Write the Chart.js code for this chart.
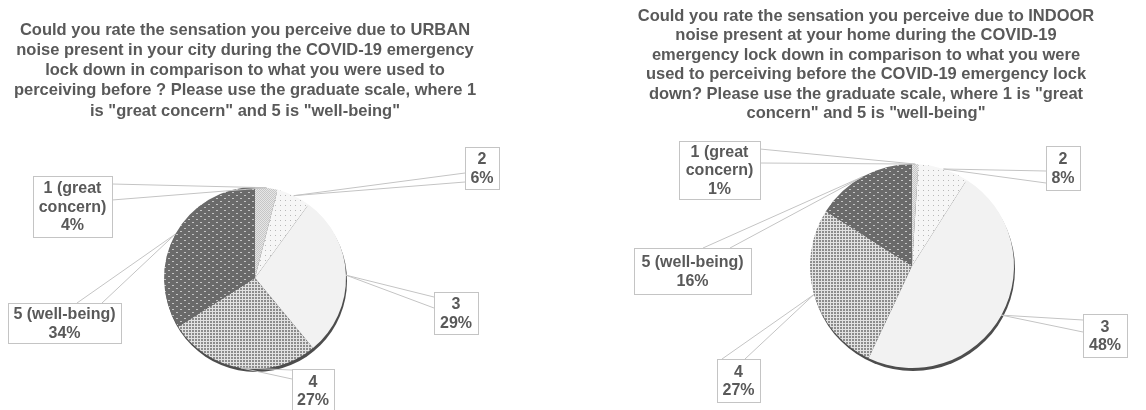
<!DOCTYPE html>
<html>
<head>
<meta charset="utf-8">
<script src="https://cdn.jsdelivr.net/npm/chart.js@4.4.1/dist/chart.umd.min.js"></script>
<style>
  body { margin: 0; background: #fff; }
  #wrap { position: relative; width: 1146px; height: 410px; }
  #wrap canvas { position: absolute; top: 0; }
</style>
</head>
<body>
<div id="wrap">
  <canvas id="urbanChart" width="573" height="410" style="left:0"></canvas>
  <canvas id="indoorChart" width="573" height="410" style="left:573px"></canvas>
</div>
<script>
// rating categories (label lines as shown in the callouts)
const categories = [['1 (great', 'concern)'], ['2'], ['3'], ['4'], ['5 (well-being)']];
const urbanValues = [4, 6, 29, 27, 34];   // % of answers, URBAN noise
const indoorValues = [1, 8, 48, 27, 16];  // % of answers, INDOOR noise

const urbanTitle = [
  'Could you rate the sensation you perceive due to URBAN',
  'noise present in your city during the COVID-19 emergency',
  'lock down in comparison to what you were used to',
  'perceiving before ? Please use the graduate scale, where 1',
  'is "great concern" and 5 is "well-being"'
];
const indoorTitle = [
  'Could you rate the sensation you perceive due to INDOOR',
  'noise present at your home during the COVID-19',
  'emergency lock down in comparison to what you were',
  'used to perceiving before the COVID-19 emergency lock',
  'down? Please use the graduate scale, where 1 is "great',
  'concern" and 5 is "well-being"'
];

const TITLE_FONT = 'bold 16.5px "Liberation Sans", Arial, sans-serif';
const FONT = 'bold 16px "Liberation Sans", Arial, sans-serif';
const TEXT = '#595959';

// grayscale pattern fills, like the printed original
function makePattern(w, h, bg, fg, dots) {
  const c = document.createElement('canvas');
  c.width = w; c.height = h;
  const g = c.getContext('2d');
  g.fillStyle = bg; g.fillRect(0, 0, w, h);
  g.fillStyle = fg;
  dots.forEach(d => g.fillRect(d[0], d[1], d[2], d[3]));
  return g.createPattern(c, 'repeat');
}

function sliceFills() {
  return [
    makePattern(2, 2, '#e6e6e6', '#c6c6c6', [[0, 0, 1, 1], [1, 1, 1, 1]]),
    makePattern(5, 5, '#f6f6f6', '#b8b8b8', [[0, 0, 1, 1]]),
    '#f2f2f2',
    makePattern(3, 3, '#e2e2e2', '#8c8c8c', [[0, 0, 2, 2]]),
    makePattern(8, 6, '#6a6a6a', '#c4c4c4', [[0, 0, 2, 1], [4, 3, 2, 1]])
  ];
}

// titles, drop shadow under the pie, and boxed callouts with leader lines
const calloutPlugin = {
  id: 'callouts',
  beforeDatasetsDraw(chart) {
    const ctx = chart.ctx;
    const arc = chart.getDatasetMeta(0).data[0];
    const p = arc.getProps(['x', 'y', 'outerRadius'], true);
    ctx.save();
    ctx.fillStyle = '#4d4d4d';
    ctx.beginPath();
    ctx.arc(p.x + 1, p.y + 3, p.outerRadius, 0, Math.PI * 2);
    ctx.fill();
    ctx.restore();
  },
  afterDatasetsDraw(chart, args, opts) {
    const ctx = chart.ctx;
    ctx.save();
    ctx.font = TITLE_FONT;
    ctx.fillStyle = TEXT;
    ctx.textAlign = 'center';
    ctx.textBaseline = 'middle';
    opts.title.forEach((line, i) => ctx.fillText(line, opts.titleX, opts.titleY + i * opts.titleStep));

    ctx.font = FONT;
    const values = chart.data.datasets[0].data;
    const meta = chart.getDatasetMeta(0);
    meta.data.forEach((arc, i) => {
      const p = arc.getProps(['x', 'y', 'startAngle', 'endAngle', 'outerRadius'], true);
      const mid = (p.startAngle + p.endAngle) / 2;
      const ax = p.x + p.outerRadius * Math.cos(mid);
      const ay = p.y + p.outerRadius * Math.sin(mid);
      const b = opts.boxes[i];
      let pts;
      if (b.side === 'left') pts = [[b.x, b.y + b.a], [b.x, b.y + b.b]];
      else if (b.side === 'right') pts = [[b.x + b.w, b.y + b.a], [b.x + b.w, b.y + b.b]];
      else pts = [[b.x + b.a, b.y], [b.x + b.b, b.y]];

      ctx.strokeStyle = '#c4c4c4';
      ctx.lineWidth = 1;
      ctx.beginPath();
      pts.forEach(q => { ctx.moveTo(ax, ay); ctx.lineTo(q[0], q[1]); });
      ctx.stroke();

      ctx.fillStyle = '#fff';
      ctx.fillRect(b.x, b.y, b.w, b.h);
      ctx.strokeRect(b.x + 0.5, b.y + 0.5, b.w, b.h);

      const lines = chart.data.labels[i].concat([values[i] + '%']);
      const lh = 18.5;
      const top = b.y + b.h / 2 - (lines.length - 1) * lh / 2 + 1;
      ctx.fillStyle = TEXT;
      lines.forEach((t, k) => ctx.fillText(t, b.x + b.w / 2, top + k * lh));
    });
    ctx.restore();
  }
};

function makeChart(id, values, padding, pluginOpts) {
  return new Chart(document.getElementById(id), {
    type: 'pie',
    data: {
      labels: categories,
      datasets: [{
        data: values,
        backgroundColor: sliceFills(),
        borderWidth: 0,
        hoverOffset: 0
      }]
    },
    options: {
      responsive: false,
      animation: false,
      devicePixelRatio: 1,
      layout: { padding: padding },
      plugins: {
        legend: { display: false },
        tooltip: { enabled: false },
        callouts: pluginOpts
      }
    },
    plugins: [calloutPlugin]
  });
}

makeChart('urbanChart', urbanValues,
  { left: 164, right: 227, top: 187, bottom: 41 },
  {
    title: urbanTitle, titleX: 245, titleY: 30, titleStep: 20.3,
    boxes: [
      { x: 33, y: 176, w: 79, h: 61, side: 'right', a: 8, b: 24 },
      { x: 465, y: 147, w: 34, h: 42, side: 'left', a: 26, b: 35 },
      { x: 434, y: 292, w: 44, h: 42, side: 'left', a: 5, b: 16 },
      { x: 292, y: 369, w: 42, h: 43, side: 'left', a: 1, b: 10 },
      { x: 8, y: 303, w: 113, h: 40, side: 'top', a: 69, b: 94 }
    ]
  });

makeChart('indoorChart', indoorValues,
  { left: 237, right: 132, top: 164, bottom: 42 },
  {
    title: indoorTitle, titleX: 293, titleY: 16, titleStep: 19.5,
    boxes: [
      { x: 106, y: 141, w: 81, h: 58, side: 'right', a: 8, b: 22 },
      { x: 473, y: 146, w: 34, h: 44, side: 'left', a: 25, b: 37 },
      { x: 510, y: 314, w: 44, h: 43, side: 'left', a: 6, b: 18 },
      { x: 144, y: 359, w: 43, h: 43, side: 'top', a: 5, b: 28 },
      { x: 61, y: 248, w: 117, h: 46, side: 'top', a: 69, b: 96 }
    ]
  });
</script>
</body>
</html>
